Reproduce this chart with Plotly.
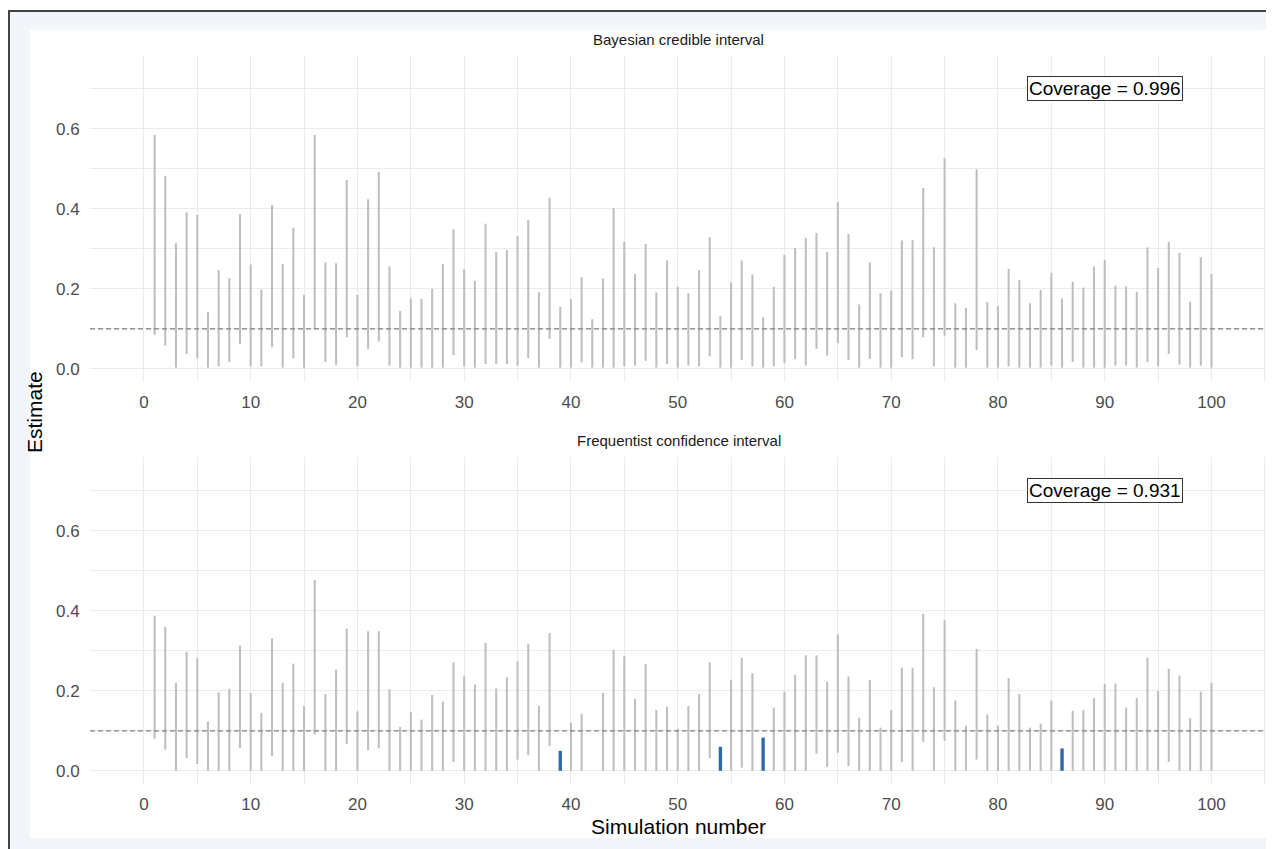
import plotly.graph_objects as go

# ---------------- data ----------------
sims = list(range(1, 101))

bayes_upper = [0.585, 0.483, 0.314, 0.391, 0.385, 0.142, 0.247, 0.227, 0.387, 0.261,
               0.198, 0.410, 0.262, 0.353, 0.185, 0.585, 0.266, 0.264, 0.472, 0.185,
               0.424, 0.493, 0.256, 0.145, 0.176, 0.175, 0.200, 0.262, 0.349, 0.249,
               0.220, 0.363, 0.292, 0.297, 0.332, 0.372, 0.191, 0.428, 0.155, 0.174,
               0.229, 0.124, 0.226, 0.402, 0.318, 0.237, 0.312, 0.191, 0.271, 0.205,
               0.189, 0.247, 0.329, 0.132, 0.216, 0.271, 0.236, 0.129, 0.205, 0.285,
               0.302, 0.328, 0.340, 0.292, 0.417, 0.337, 0.161, 0.266, 0.189, 0.196,
               0.321, 0.322, 0.452, 0.304, 0.527, 0.164, 0.152, 0.499, 0.167, 0.157,
               0.250, 0.222, 0.164, 0.197, 0.240, 0.176, 0.218, 0.203, 0.256, 0.272,
               0.208, 0.206, 0.193, 0.304, 0.252, 0.317, 0.290, 0.168, 0.279, 0.237]

bayes_lower = [0.085, 0.058, 0.003, 0.037, 0.026, 0.003, 0.006, 0.017, 0.062, 0.006,
               0.006, 0.054, 0.003, 0.026, 0.003, 0.098, 0.017, 0.010, 0.079, 0.006,
               0.050, 0.068, 0.008, 0.003, 0.003, 0.003, 0.003, 0.003, 0.034, 0.006,
               0.003, 0.012, 0.012, 0.012, 0.008, 0.027, 0.003, 0.075, 0.003, 0.003,
               0.016, 0.003, 0.003, 0.003, 0.006, 0.008, 0.020, 0.003, 0.012, 0.003,
               0.008, 0.006, 0.031, 0.003, 0.003, 0.022, 0.006, 0.003, 0.006, 0.014,
               0.024, 0.008, 0.050, 0.033, 0.064, 0.022, 0.003, 0.025, 0.003, 0.003,
               0.029, 0.024, 0.079, 0.006, 0.083, 0.003, 0.003, 0.047, 0.003, 0.003,
               0.006, 0.003, 0.003, 0.003, 0.008, 0.003, 0.017, 0.003, 0.003, 0.003,
               0.008, 0.008, 0.003, 0.017, 0.006, 0.037, 0.010, 0.003, 0.008, 0.003]

freq_upper = [0.388, 0.361, 0.220, 0.298, 0.282, 0.123, 0.196, 0.205, 0.313, 0.195,
              0.145, 0.331, 0.220, 0.268, 0.162, 0.477, 0.192, 0.253, 0.356, 0.149,
              0.349, 0.349, 0.204, 0.110, 0.147, 0.128, 0.190, 0.173, 0.271, 0.238,
              0.216, 0.320, 0.206, 0.234, 0.274, 0.318, 0.162, 0.345, 0.050, 0.120,
              0.142, None, 0.195, 0.303, 0.287, 0.180, 0.267, 0.152, 0.160, 0.105,
              0.162, 0.192, 0.271, 0.060, 0.228, 0.283, 0.244, 0.083, 0.158, 0.198,
              0.240, 0.289, 0.289, 0.223, 0.341, 0.236, 0.133, 0.227, 0.108, 0.152,
              0.258, 0.258, 0.393, 0.209, 0.377, 0.176, 0.113, 0.305, 0.141, 0.113,
              0.232, 0.192, 0.108, 0.118, 0.176, 0.056, 0.150, 0.152, 0.182, 0.217,
              0.218, 0.158, 0.182, 0.283, 0.200, 0.255, 0.238, 0.132, 0.198, 0.220]

freq_lower = [0.080, 0.053, 0.0, 0.032, 0.017, 0.0, 0.0, 0.0, 0.057, 0.0,
              0.0, 0.037, 0.0, 0.0, 0.0, 0.091, 0.0, 0.0, 0.067, 0.0,
              0.052, 0.056, 0.0, 0.0, 0.0, 0.0, 0.0, 0.0, 0.022, 0.0,
              0.0, 0.0, 0.0, 0.0, 0.028, 0.039, 0.0, 0.062, 0.0, 0.0,
              0.0, None, 0.0, 0.0, 0.0, 0.0, 0.0, 0.0, 0.0, 0.0,
              0.0, 0.0, 0.031, 0.0, 0.0, 0.008, 0.0, 0.0, 0.0, 0.0,
              0.0, 0.0, 0.043, 0.010, 0.045, 0.012, 0.0, 0.0, 0.0, 0.0,
              0.022, 0.0, 0.072, 0.0, 0.075, 0.0, 0.0, 0.028, 0.0, 0.0,
              0.0, 0.0, 0.0, 0.0, 0.0, 0.0, 0.0, 0.0, 0.0, 0.0,
              0.0, 0.0, 0.0, 0.0, 0.0, 0.022, 0.0, 0.0, 0.0, 0.0]

true_value = 0.1
panel_titles = ["Bayesian credible interval", "Frequentist confidence interval"]
coverage_labels = ["Coverage = 0.996", "Coverage = 0.931"]
y_ticks = [0.0, 0.2, 0.4, 0.6]
y_tick_text = ["0.0", "0.2", "0.4", "0.6"]
x_ticks = list(range(0, 101, 10))

# ---------------- styling ----------------
# the page body has an 8px margin, so the figure is drawn 8px in from the corner
OFF = 8
W, H = 1274 - OFF, 849 - OFF
ML, MR, MT, MB = 82, 7, 47, 65
PW, PH = W - ML - MR, H - MT - MB
GREY_BAR = "#bfbfbf"
BLUE_BAR = "#2f6aa8"
GRID = "#ebebeb"


def px2x(px):
    # px is a page coordinate
    return (px - OFF - ML) / PW


def py2y(py):
    return (H - MB - (py - OFF)) / PH


def segments(lo, hi, want_covered):
    xs, ys = [], []
    for s, a, b in zip(sims, lo, hi):
        if a is None or b is None:
            continue
        covered = a <= true_value <= b
        if covered == want_covered:
            xs += [s, s, None]
            ys += [a, b, None]
    return xs, ys


fig = go.Figure()

panels = [(bayes_lower, bayes_upper), (freq_lower, freq_upper)]
for i, (lo, hi) in enumerate(panels):
    xa = "x" if i == 0 else "x2"
    ya = "y" if i == 0 else "y2"
    gx, gy = segments(lo, hi, True)
    bx, by = segments(lo, hi, False)
    fig.add_trace(go.Scatter(x=gx, y=gy, mode="lines", xaxis=xa, yaxis=ya,
                             line=dict(color=GREY_BAR, width=2.1), showlegend=False,
                             hoverinfo="skip"))
    fig.add_trace(go.Scatter(x=bx, y=by, mode="lines", xaxis=xa, yaxis=ya,
                             line=dict(color=BLUE_BAR, width=3.4), showlegend=False,
                             hoverinfo="skip"))
    fig.add_shape(type="line", xref=("x domain" if i == 0 else "x2 domain"), yref=ya,
                  x0=0, x1=1, y0=true_value, y1=true_value,
                  line=dict(color="#808080", width=1.3, dash="5px,3px"), layer="above")

top_dom = [py2y(382), py2y(55)]
bot_dom = [py2y(784), py2y(457)]

axis_common = dict(showline=False, zeroline=False, showgrid=True,
                   gridcolor=GRID, gridwidth=1.4)

xcommon = dict(axis_common, range=[-5.05, 105.2], tickvals=x_ticks,
               ticks="outside", ticklen=5, tickcolor="rgba(0,0,0,0)",
               minor=dict(dtick=5, tick0=0, showgrid=True, gridcolor=GRID, gridwidth=1.1),
               tickfont=dict(family="Liberation Sans, Arial", size=17, color="#4d4d4d"))
ycommon = dict(axis_common, range=[-0.033, 0.785], tickvals=y_ticks, ticktext=y_tick_text,
               ticks="outside", ticklen=6, tickcolor="rgba(0,0,0,0)",
               minor=dict(dtick=0.1, tick0=0, showgrid=True, gridcolor=GRID, gridwidth=1.1),
               tickfont=dict(family="Liberation Sans, Arial", size=17, color="#4d4d4d"))

fig.update_layout(
    width=W, height=H,
    margin=dict(l=ML, r=MR, t=MT, b=MB),
    paper_bgcolor="white", plot_bgcolor="rgba(0,0,0,0)",
    xaxis=dict(xcommon, domain=[0, 1], anchor="y"),
    yaxis=dict(ycommon, domain=top_dom, anchor="x"),
    xaxis2=dict(xcommon, domain=[0, 1], anchor="y2"),
    yaxis2=dict(ycommon, domain=bot_dom, anchor="x2"),
    font=dict(family="Liberation Sans, Arial"),
)

# background frame (outer light blue band, inner white, dark border left/top)
fig.add_shape(type="rect", xref="paper", yref="paper", x0=px2x(8), x1=px2x(1280),
              y0=py2y(856), y1=py2y(10), fillcolor="#f2f6fa", line_width=0, layer="below")
fig.add_shape(type="rect", xref="paper", yref="paper", x0=px2x(30), x1=px2x(1267),
              y0=py2y(838), y1=py2y(30), fillcolor="white", line_width=0, layer="below")
fig.add_shape(type="line", xref="paper", yref="paper", x0=px2x(9), x1=px2x(9),
              y0=py2y(856), y1=py2y(10), line=dict(color="#444444", width=2))
fig.add_shape(type="line", xref="paper", yref="paper", x0=px2x(8), x1=px2x(1280),
              y0=py2y(11), y1=py2y(11), line=dict(color="#444444", width=2))

# panel titles
for i, t in enumerate(panel_titles):
    fig.add_annotation(text=t, xref="paper", yref="paper", x=0.5,
                       y=py2y(40 if i == 0 else 441), showarrow=False,
                       font=dict(size=15, color="#1a1a1a"), xanchor="center", yanchor="middle")

# coverage labels
for i, t in enumerate(coverage_labels):
    fig.add_annotation(text=t, xref=("x" if i == 0 else "x2"), yref=("y" if i == 0 else "y2"),
                       x=90, y=0.7, showarrow=False,
                       font=dict(size=19, color="black"), bgcolor="white",
                       bordercolor="#333333", borderwidth=1, borderpad=1)

# axis titles
fig.add_annotation(text="Estimate", xref="paper", yref="paper", x=px2x(34), y=py2y(412),
                   textangle=-90, showarrow=False, font=dict(size=21, color="black"),
                   xanchor="center", yanchor="middle")
fig.add_annotation(text="Simulation number", xref="paper", yref="paper", x=0.5, y=py2y(826),
                   showarrow=False, font=dict(size=21, color="black"),
                   xanchor="center", yanchor="middle")

fig.write_html("out.html")
